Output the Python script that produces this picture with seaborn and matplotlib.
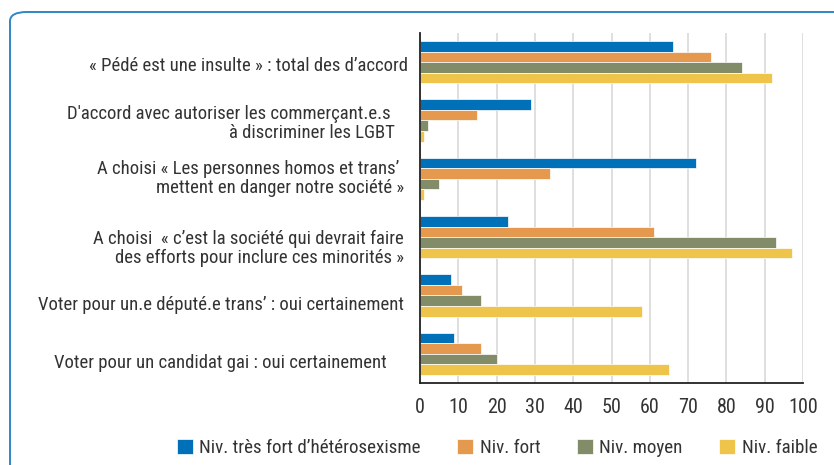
"""barres horizontales : opinions selon le niveau d'hétérosexisme"""

import matplotlib

matplotlib.use("Agg")
import matplotlib.pyplot as plt
import matplotlib.transforms as mtransforms
from matplotlib.patches import FancyBboxPatch
import pandas as pd
import seaborn as sns

questions = [
    "« Pédé est une insulte » : total des d’accord",
    "D'accord avec autoriser les commerçant.e.s    \nà discriminer les LGBT   ",
    "A choisi « Les personnes homos et trans’  \nmettent en danger notre société » ",
    "A choisi  « c’est la société qui devrait faire \ndes efforts pour inclure ces minorités » ",
    "Voter pour un.e député.e trans’ : oui certainement ",
    "Voter pour un candidat gai : oui certainement     ",
]
niveaux = ["Niv. très fort d’hétérosexisme", "Niv. fort", "Niv. moyen", "Niv. faible"]
tres_fort = [66, 29, 72, 23, 8, 9]
fort = [76, 15, 34, 61, 11, 16]
moyen = [84, 2, 5, 93, 16, 20]
faible = [92, 1, 1, 97, 58, 65]
couleurs = ["#0070B8", "#E5994F", "#828C68", "#EEC54A"]
xticks = list(range(0, 101, 10))

# décalage vertical des libellés (px), comme dans l'original
label_dy = [4, 3, 0, 11, 9, 9]

rows = []
for niv, vals in zip(niveaux, [tres_fort, fort, moyen, faible]):
    for q, v in zip(questions, vals):
        rows.append({"question": q, "niveau": niv, "valeur": v})
df = pd.DataFrame(rows)

sns.set_style("white")
plt.rcParams["font.family"] = [
    "Roboto Condensed", "Liberation Sans Narrow", "Roboto", "DejaVu Sans",
]
txt_color = "#333333"

fig = plt.figure(figsize=(8.34, 4.65), dpi=100)
ax = fig.add_axes([420 / 834, 1 - 383 / 465, 383 / 834, 350 / 465])

sns.barplot(
    data=df,
    y="question",
    x="valeur",
    hue="niveau",
    orient="h",
    palette=couleurs,
    saturation=1,
    width=0.73,
    edgecolor="white",
    linewidth=0.5,
    ax=ax,
)

handles, labels = ax.get_legend_handles_labels()
ax.get_legend().remove()

ax.set_xlim(0, 100)
ax.set_ylim(len(questions) - 0.5, -0.5)
ax.set_xticks(xticks)
ax.set_xticklabels([str(t) for t in xticks], fontsize=14.5, color=txt_color)
ax.set_xlabel("")
ax.set_ylabel("")
ax.set_axisbelow(True)
ax.xaxis.grid(True, color="#D9D9D9", lw=1.2)
ax.yaxis.grid(False)

ax.set_yticks([i - 0.5 for i in range(len(questions) + 1)], minor=True)
ax.set_yticks(range(len(questions)))
ax.set_yticklabels([])
ax.tick_params(axis="y", which="major", length=0)
ax.tick_params(axis="y", which="minor", length=3.5, width=1.2, color="#222222", direction="out")
ax.tick_params(axis="x", length=4, width=1.2, color="#222222", direction="out", pad=7)

for side in ["top", "right"]:
    ax.spines[side].set_visible(False)
for side in ["left", "bottom"]:
    ax.spines[side].set_color("#222222")
    ax.spines[side].set_linewidth(1.3)

for i, (q, dy) in enumerate(zip(questions, label_dy)):
    off = mtransforms.ScaledTranslation(-12 / 100, -dy / 100, fig.dpi_scale_trans)
    ax.text(
        0, i, q,
        transform=ax.get_yaxis_transform() + off,
        ha="right", va="center", fontsize=13.5, color=txt_color,
        linespacing=1.05,
    )

fig.legend(
    handles, labels,
    loc="center", bbox_to_anchor=(497 / 834, 1 - 448 / 465),
    ncol=4, frameon=False, fontsize=13.7,
    handlelength=0.85, handleheight=0.85, handletextpad=0.35,
    columnspacing=1.9, labelcolor=txt_color,
)

cadre = FancyBboxPatch(
    (10 / 834, -0.2), 1.2, 1.2 - 12 / 465,
    boxstyle="round,pad=0,rounding_size=0.02",
    transform=fig.transFigure, fill=False,
    edgecolor="#2F86C6", linewidth=1.4, clip_on=False,
)
fig.patches.append(cadre)

fig.savefig("out.png", dpi=100)
